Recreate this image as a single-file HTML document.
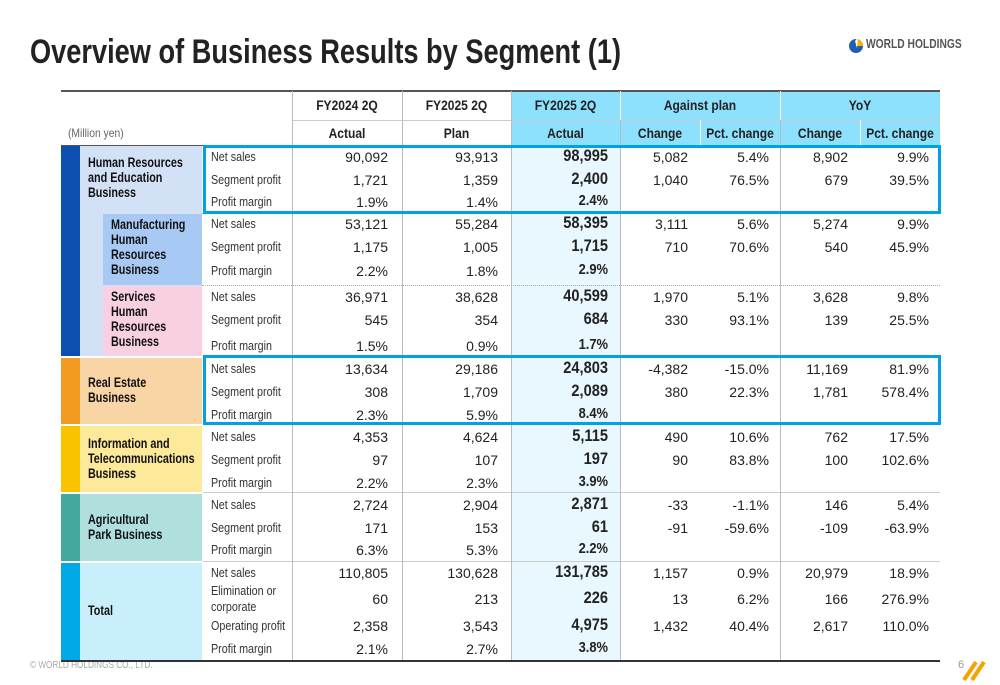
<!DOCTYPE html>
<html><head><meta charset="utf-8"><style>
*{margin:0;padding:0;box-sizing:border-box}
body{width:1000px;height:685px;background:#fff;position:relative;overflow:hidden;font-family:"Liberation Sans",Arial,sans-serif;color:#222}
.a{position:absolute}
.t{position:absolute;font-size:13px;white-space:nowrap;line-height:16px;transform:scaleX(0.86);transform-origin:left center}
.r{text-align:right;transform-origin:right center}
.c{text-align:center;transform-origin:center center}
.b{font-weight:bold}
.n{font-size:14px;transform:none}
.seg{position:absolute;font-weight:bold;font-size:13.5px;line-height:15px;color:#111;white-space:nowrap;transform:scaleX(0.8);transform-origin:left top}
</style></head><body>
<div class="a" style="left:30px;top:30px;font-size:34px;font-weight:bold;color:#222;white-space:nowrap;line-height:44px;transform:scaleX(0.8);transform-origin:left top">Overview of Business Results by Segment (1)</div>
<div class="a" style="left:848px;top:36px;width:120px;height:18px">
<svg width="16" height="18" style="position:absolute;left:0;top:0"><circle cx="8" cy="10" r="7" fill="#1f5fb4"/><path d="M8 3 A7 7 0 0 1 15 10 L8 10Z" fill="#f5b400"/><path d="M7 5 L10 2 L9 12Z" fill="#fff"/></svg>
<span style="position:absolute;left:18px;top:1px;font-weight:bold;font-size:12.5px;color:#555;white-space:nowrap;transform:scaleX(0.82);transform-origin:left top">WORLD HOLDINGS</span></div>
<div class="a" style="left:30px;top:660px;font-size:10px;color:#aaa;white-space:nowrap;transform:scaleX(0.82);transform-origin:left top">© WORLD HOLDINGS CO., LTD.</div>
<div class="a" style="left:958px;top:659px;font-size:11px;color:#999">6</div>
<svg class="a" style="left:962px;top:658px" width="24" height="24"><path d="M2 22 L14 4" stroke="#f5a300" stroke-width="4"/><path d="M10 22 L22 4" stroke="#f5a300" stroke-width="4"/></svg>
<div id="tbl" class="a" style="left:0;top:0;width:1000px;height:685px"></div>
<script>
var T=document.getElementById('tbl');
function box(x,y,w,h,st,name){var d=document.createElement('div');d.className='a';d.style.cssText='left:'+x+'px;top:'+y+'px;width:'+w+'px;height:'+h+'px;'+st;


T.appendChild(d);return d;}
function txt(x,y,w,s,cls,st,name){var d=document.createElement('div');d.className='t '+cls;d.style.cssText='left:'+x+'px;top:'+(y-8)+'px;width:'+w+'px;'+(st||'');d.textContent=s;


T.appendChild(d);return d;}
box(511,91,429,54,'background:#8ee1fc','header-highlight');
box(511,146,109,514,'background:#e9f8fe','actual-column-bg');
box(61,90,879,2,'background:#555','top-rule');
box(292,120,648,1,'background:#ccc','header-mid-rule');
box(61,145,879,1,'background:#555','header-bottom-rule');
txt(292,105,110,'FY2024 2Q','c b','font-size:14px','header-fy2024');
txt(402,105,109,'FY2025 2Q','c b','font-size:14px','header-fy2025-plan');
txt(511,105,109,'FY2025 2Q','c b','font-size:14px','header-fy2025-actual');
txt(620,105,160,'Against plan','c b','font-size:14px','header-against-plan');
txt(780,105,160,'YoY','c b','font-size:14px','header-yoy');
txt(292,133,110,'Actual','c b','font-size:14px','header-actual');
txt(402,133,109,'Plan','c b','font-size:14px','header-plan');
txt(511,133,109,'Actual','c b','font-size:14px','header-actual-2');
txt(620,133,80,'Change','c b','font-size:14px','header-change');
txt(700,133,80,'Pct. change','c b','font-size:14px','header-pct-change');
txt(780,133,80,'Change','c b','font-size:14px','header-yoy-change');
txt(860,133,80,'Pct. change','c b','font-size:14px','header-yoy-pct-change');
txt(68,133,120,'(Million yen)','','color:#666;font-size:12px','unit-label');
box(620,91,1,54,'background:#fff','hdr-sep');box(780,91,1,54,'background:#fff','hdr-sep');
box(700,120,1,25,'background:#fff','hdr-sep');box(860,120,1,25,'background:#fff','hdr-sep');
var segNames=['Human Resources\nand Education\nBusiness','Manufacturing\nHuman\nResources\nBusiness','Services\nHuman\nResources\nBusiness','Real Estate\nBusiness','Information and\nTelecommunications\nBusiness','Agricultural\nPark Business','Total'];
var segTop=[146,213,285,356,424,492,561];
var segBot=[213,285,356,424,492,561,660];
var metrics=[['Net sales','Segment profit','Profit margin'],['Net sales','Segment profit','Profit margin'],['Net sales','Segment profit','Profit margin'],['Net sales','Segment profit','Profit margin'],['Net sales','Segment profit','Profit margin'],['Net sales','Segment profit','Profit margin'],['Net sales','Elimination or\ncorporate','Operating profit','Profit margin']];
var rowY=[[157,180,202],[224,247,271],[297,320,346],[369,392,415],[437,460,483],[505,528,550],[573,599,626,649]];
var fy24=[['90,092','1,721','1.9%'],['53,121','1,175','2.2%'],['36,971','545','1.5%'],['13,634','308','2.3%'],['4,353','97','2.2%'],['2,724','171','6.3%'],['110,805','60','2,358','2.1%']];
var plan=[['93,913','1,359','1.4%'],['55,284','1,005','1.8%'],['38,628','354','0.9%'],['29,186','1,709','5.9%'],['4,624','107','2.3%'],['2,904','153','5.3%'],['130,628','213','3,543','2.7%']];
var actual=[['98,995','2,400','2.4%'],['58,395','1,715','2.9%'],['40,599','684','1.7%'],['24,803','2,089','8.4%'],['5,115','197','3.9%'],['2,871','61','2.2%'],['131,785','226','4,975','3.8%']];
var pChg=[['5,082','1,040',''],['3,111','710',''],['1,970','330',''],['-4,382','380',''],['490','90',''],['-33','-91',''],['1,157','13','1,432','']];
var pPct=[['5.4%','76.5%',''],['5.6%','70.6%',''],['5.1%','93.1%',''],['-15.0%','22.3%',''],['10.6%','83.8%',''],['-1.1%','-59.6%',''],['0.9%','6.2%','40.4%','']];
var yChg=[['8,902','679',''],['5,274','540',''],['3,628','139',''],['11,169','1,781',''],['762','100',''],['146','-109',''],['20,979','166','2,617','']];
var yPct=[['9.9%','39.5%',''],['9.9%','45.9%',''],['9.8%','25.5%',''],['81.9%','578.4%',''],['17.5%','102.6%',''],['5.4%','-63.9%',''],['18.9%','276.9%','110.0%','']];
var strip=['#0c4faf','#0c4faf','#0c4faf','#f29a22','#f9c300','#43a89e','#00a8e6'];
var bg=['#d3e1f6','#a9c9f5','#f8d0e2','#f9d5a6','#fde99a','#b0e0de','#c9effc'];
box(61,146,19,210,'background:#0c4faf','hr-strip');
box(80,146,122,210,'background:#d3e1f6','hr-bg');
for(var i=0;i<7;i++){
 var y0=segTop[i],h=segBot[i]-segTop[i];
 if(i>=3){box(61,y0+1,19,h-1,'background:'+strip[i],'segment-strip');
 box(80,y0+1,122,h-1,'background:'+bg[i],'segment-bg');}
 if(i==1||i==2){box(103,y0+1,99,h-1,'background:'+bg[i],'subsegment-bg');}
 if(i>0){var dotted=(i==1||i==2);
  box(dotted?202:61,y0,dotted?738:879,1,dotted?'border-top:1px dotted #aaa':'background:#ccc','segment-divider');
  if(i>=3) box(61,y0,142,2,'background:#fff','segment-gap');}
 var sx=(i==1||i==2)?111:88, lines=segNames[i].split('\n');
 var mid=(i==1||i==2)?y0+h/2-2:y0+h/2;
 var s=document.createElement('div');s.className='seg';s.style.left=sx+'px';s.style.top=(mid-lines.length*7.5)+'px';
 if(i==0)s.style.top='155px';
 s.innerHTML=lines.join('<br>');
 
 
 T.appendChild(s);
 for(var j=0;j<rowY[i].length;j++){
  var y=rowY[i][j], m=metrics[i][j];
  if(m.indexOf('\n')>=0){var d=txt(211,y-2,90,'','','font-size:12.5px;line-height:16px;color:#333','metric-label');d.innerHTML=m.replace('\n','<br>');d.style.top=(y-16)+'px';}
  else txt(211,y,90,m,'','font-size:12.5px;color:#333','metric-label');
  txt(292,y,96,fy24[i][j],'r n','','value-fy2024');
  txt(402,y,96,plan[i][j],'r n','','value-plan');
  txt(511,y-1,97,actual[i][j],'r b',(j==rowY[i].length-1?'font-size:15px':'font-size:17px'),'value-actual');
  txt(620,y,68,pChg[i][j],'r n','','value-plan-change');
  txt(700,y,69,pPct[i][j],'r n','','value-plan-pct');
  txt(780,y,68,yChg[i][j],'r n','','value-yoy-change');
  txt(860,y,69,yPct[i][j],'r n','','value-yoy-pct');
 }
}
[292,402,511,620,780].forEach(function(x){
 box(x,120,1,540,'background:#bbb','column-divider');
});
box(292,91,1,29,'background:#bbb','column-divider');box(402,91,1,29,'background:#bbb','column-divider');box(511,91,1,29,'background:#bbb','column-divider');
box(61,660,879,2,'background:#333','bottom-rule');
box(203,145,738,69,'border:3px solid #00a2e3','highlight-hr');
box(203,355,738,70,'border:3px solid #00a2e3','highlight-real-estate');
</script>
</body></html>
